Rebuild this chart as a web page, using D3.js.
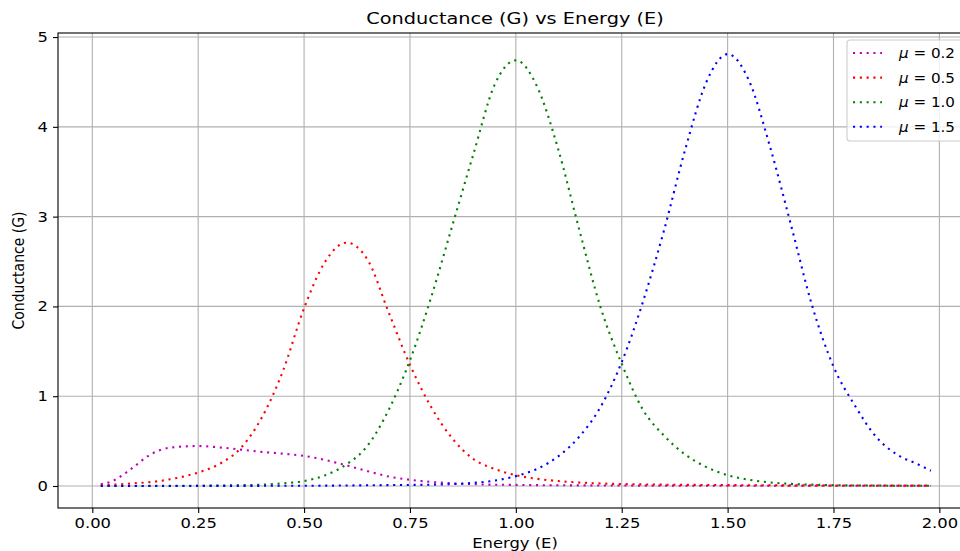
<!DOCTYPE html>
<html>
<head>
<meta charset="utf-8">
<script src="https://cdn.jsdelivr.net/npm/d3@7"></script>
<style>
  body { margin: 0; background: #fff; }
  svg { display: block; font-family: "DejaVu Sans", sans-serif; }
</style>
</head>
<body>
<div id="chart"></div>
<script>
// values
var labels = ['0.2', '0.5', '1.0', '1.5']
var colors = ['#bf00bf', '#ff0000', '#008000', '#0000ff']

var E_mu02 = [0.02, 0.05, 0.08, 0.10, 0.13, 0.16, 0.20, 0.25, 0.30, 0.35, 0.40, 0.45, 0.50, 0.55, 0.60, 0.65, 0.70, 0.75, 0.80, 0.85, 0.90, 1.00, 1.20, 1.50, 1.98]
var G_mu02 = [0.02, 0.06, 0.15, 0.22, 0.33, 0.40, 0.435, 0.445, 0.43, 0.405, 0.38, 0.36, 0.335, 0.29, 0.23, 0.165, 0.105, 0.07, 0.045, 0.03, 0.02, 0.012, 0.006, 0.003, 0.002]

var E_mu05 = [0.02, 0.05, 0.10, 0.15, 0.20, 0.25, 0.30, 0.35, 0.40, 0.45, 0.50, 0.55, 0.60, 0.65, 0.70, 0.75, 0.80, 0.85, 0.90, 0.95, 1.00, 1.05, 1.10, 1.20, 1.30, 1.50, 1.75, 1.98]
var G_mu05 = [0.01, 0.015, 0.03, 0.05, 0.09, 0.15, 0.245, 0.42, 0.76, 1.28, 1.98, 2.50, 2.71, 2.52, 1.93, 1.35, 0.88, 0.53, 0.30, 0.19, 0.12, 0.08, 0.055, 0.028, 0.018, 0.01, 0.006, 0.004]

var E_mu10 = [0.02, 0.25, 0.40, 0.45, 0.50, 0.55, 0.60, 0.65, 0.70, 0.75, 0.80, 0.85, 0.90, 0.95, 1.00, 1.05, 1.10, 1.15, 1.20, 1.25, 1.30, 1.35, 1.40, 1.45, 1.50, 1.55, 1.60, 1.70, 1.80, 1.98]
var G_mu10 = [0.0, 0.003, 0.015, 0.03, 0.055, 0.12, 0.24, 0.45, 0.85, 1.40, 2.10, 2.90, 3.70, 4.47, 4.74, 4.45, 3.75, 2.85, 1.99, 1.36, 0.85, 0.56, 0.35, 0.21, 0.12, 0.07, 0.04, 0.015, 0.006, 0.002]

var E_mu15 = [0.02, 0.50, 0.70, 0.80, 0.90, 0.95, 1.00, 1.05, 1.10, 1.15, 1.20, 1.25, 1.30, 1.35, 1.40, 1.45, 1.50, 1.55, 1.60, 1.65, 1.70, 1.75, 1.80, 1.85, 1.90, 1.95, 1.98]
var G_mu15 = [0.0, 0.003, 0.01, 0.015, 0.035, 0.06, 0.11, 0.19, 0.33, 0.55, 0.88, 1.38, 2.05, 2.85, 3.75, 4.50, 4.81, 4.52, 3.78, 2.90, 2.00, 1.33, 0.90, 0.55, 0.35, 0.24, 0.17]

var xTicks = [0, 0.25, 0.5, 0.75, 1.0, 1.25, 1.5, 1.75, 2.0]
var yTicks = [0, 1, 2, 3, 4, 5]

var series = [
  { label: labels[0], color: colors[0], E: E_mu02, G: G_mu02 },
  { label: labels[1], color: colors[1], E: E_mu05, G: G_mu05 },
  { label: labels[2], color: colors[2], E: E_mu10, G: G_mu10 },
  { label: labels[3], color: colors[3], E: E_mu15, G: G_mu15 }
]

var W = 960, H = 551
var margin = { top: 33, right: -12, bottom: 43, left: 58 }
var width = W - margin.left - margin.right
var height = H - margin.top - margin.bottom
// the reference text looks a bit stretched sideways
var stretch = 1.17

var svg = d3.select('#chart').append('svg')
  .attr('width', W)
  .attr('height', H)

var g = svg.append('g')
  .attr('transform', 'translate(' + margin.left + ',' + margin.top + ')')

var x = d3.scaleLinear().domain([-0.081, 2.077]).range([0, width])
var y = d3.scaleLinear().domain([-0.245, 5.045]).range([height, 0])

svg.append('defs').append('clipPath').attr('id', 'plotClip')
  .append('rect').attr('width', width).attr('height', height)

// grid
g.append('g').selectAll('line').data(xTicks).enter().append('line')
  .attr('x1', d => x(d)).attr('x2', d => x(d))
  .attr('y1', 0).attr('y2', height)
  .attr('stroke', '#b0b0b0').attr('stroke-width', 1.1)
g.append('g').selectAll('line').data(yTicks).enter().append('line')
  .attr('x1', 0).attr('x2', width)
  .attr('y1', d => y(d)).attr('y2', d => y(d))
  .attr('stroke', '#b0b0b0').attr('stroke-width', 1.1)

// curves
var line = d3.line()
  .x(d => x(d[0]))
  .y(d => y(d[1]))
  .curve(d3.curveMonotoneX)

g.append('g').attr('clip-path', 'url(#plotClip)')
  .selectAll('path').data(series).enter().append('path')
  .attr('d', d => line(d.E.map((e, i) => [e, d.G[i]])))
  .attr('fill', 'none')
  .attr('stroke', d => d.color)
  .attr('stroke-width', 2.1)
  .attr('stroke-dasharray', '2.1,4.7')

// axes
var xAxis = g.append('g')
  .attr('transform', 'translate(0,' + height + ')')
  .call(d3.axisBottom(x).tickValues(xTicks).tickFormat(d3.format('.2f')).tickSize(5).tickPadding(5))
var yAxis = g.append('g')
  .call(d3.axisLeft(y).tickValues(yTicks).tickFormat(d3.format('d')).tickSize(5).tickPadding(5))

;[xAxis, yAxis].forEach(function(a) {
  a.select('.domain').remove()
  a.selectAll('line').attr('stroke', '#000').attr('stroke-width', 1.1)
  a.selectAll('text').attr('font-size', 14).attr('fill', '#000')
    .attr('font-family', '"DejaVu Sans", sans-serif')
    .attr('transform', 'scale(' + stretch + ',1)')
})
yAxis.selectAll('text').attr('x', -10 / stretch)

// spines
g.append('rect')
  .attr('x', 0).attr('y', 0)
  .attr('width', width).attr('height', height)
  .attr('fill', 'none').attr('stroke', '#000').attr('stroke-width', 1.1)

// legend
var legend = g.append('g')
  .attr('transform', 'translate(' + (847 - margin.left) + ',' + (40 - margin.top) + ')')

legend.append('rect')
  .attr('x', 0).attr('y', 0)
  .attr('width', 120).attr('height', 101)
  .attr('rx', 3)
  .attr('fill', 'white').attr('fill-opacity', 0.8)
  .attr('stroke', '#cccccc').attr('stroke-width', 1.1)

var items = legend.selectAll('g.item').data(series).enter().append('g')
  .attr('class', 'item')
  .attr('transform', (d, i) => 'translate(0,' + (13 + i * 24.6) + ')')

items.append('line')
  .attr('x1', 6).attr('x2', 35)
  .attr('y1', 0).attr('y2', 0)
  .attr('stroke', d => d.color)
  .attr('stroke-width', 2.1)
  .attr('stroke-dasharray', '2.1,4.7')

var itemText = items.append('text')
  .attr('transform', 'translate(52,5) scale(1.08,1)')
  .attr('font-size', 14)
itemText.append('tspan').attr('font-style', 'italic').text('μ')
itemText.append('tspan').text(d => ' = ' + d.label)

// titles
svg.append('text')
  .text('Conductance (G) vs Energy (E)')
  .attr('text-anchor', 'middle')
  .attr('font-size', 16.5)
  .attr('transform', 'translate(' + (margin.left + width / 2) + ',24) scale(' + stretch + ',1)')

svg.append('text')
  .text('Energy (E)')
  .attr('text-anchor', 'middle')
  .attr('font-size', 14)
  .attr('transform', 'translate(' + (margin.left + width / 2) + ',548) scale(' + stretch + ',1)')

svg.append('text')
  .text('Conductance (G)')
  .attr('text-anchor', 'middle')
  .attr('font-size', 14)
  .attr('transform', 'translate(24,' + (margin.top + height / 2) + ') scale(' + stretch + ',1) rotate(-90)')
</script>
</body>
</html>
